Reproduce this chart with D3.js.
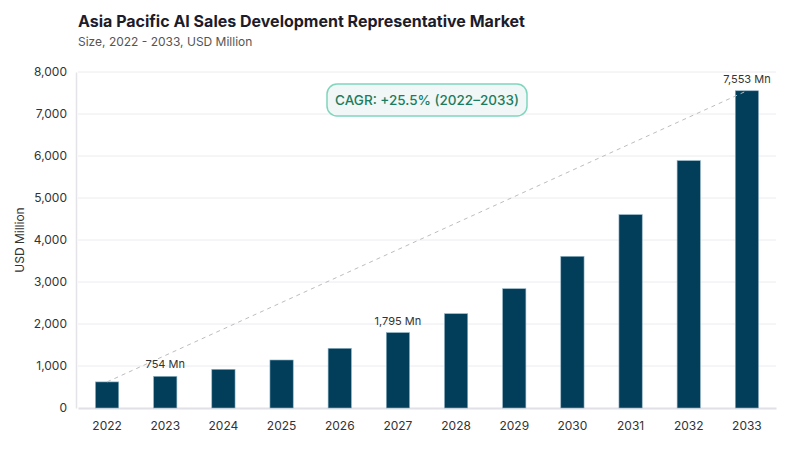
<!DOCTYPE html>
<html>
<head>
<meta charset="utf-8">
<script src="https://cdn.jsdelivr.net/npm/d3@7"></script>
<style>
  body { margin: 0; background: #fff; }
  svg { display: block; font-family: Inter, "Noto Sans", sans-serif; }
</style>
</head>
<body>
<div id="chart"></div>
<script>
const years = ["2022", "2023", "2024", "2025", "2026", "2027", "2028", "2029", "2030", "2031", "2032", "2033"];
const values = [621, 754, 921, 1143, 1421, 1795, 2245, 2840, 3611, 4603, 5889, 7553];
const labelledYears = ["2023", "2027", "2033"];
const yTicks = [0, 1000, 2000, 3000, 4000, 5000, 6000, 7000, 8000];
const cagrText = "CAGR: +25.5% (2022\u20132033)";

const width = 800;
const height = 450;
const margin = { top: 72, right: 24, bottom: 42, left: 78 };

const svg = d3.select("#chart")
  .append("svg")
  .attr("width", width)
  .attr("height", height);

const x = d3.scaleBand()
  .domain(years)
  .range([margin.left, width - margin.right])
  .paddingInner(0.6)
  .paddingOuter(0.3);

const y = d3.scaleLinear()
  .domain([0, 8000])
  .range([height - margin.bottom, margin.top]);

// title
svg.append("text")
  .attr("x", 78).attr("y", 27)
  .attr("font-size", 16).attr("font-weight", 700)
  .attr("fill", "#1c1c2b")
  .text("Asia Pacific AI Sales Development Representative Market");

svg.append("text")
  .attr("x", 78).attr("y", 46)
  .attr("font-size", 12)
  .attr("fill", "#555")
  .text("Size, 2022 - 2033, USD Million");

// grid
svg.append("g")
  .selectAll("line")
  .data(yTicks.filter(d => d > 0))
  .enter()
  .append("line")
  .attr("x1", margin.left).attr("x2", width - margin.right)
  .attr("y1", d => y(d)).attr("y2", d => y(d))
  .attr("stroke", "#ececef")
  .attr("stroke-width", 1);

// y axis
const yAxis = svg.append("g")
  .attr("transform", `translate(${margin.left - 2},0)`)
  .call(d3.axisLeft(y).tickValues(yTicks).tickFormat(d3.format(",")).tickSize(0).tickPadding(9));
yAxis.select(".domain").attr("stroke", "#e3e3e8").attr("stroke-width", 1.5);
yAxis.selectAll("text").attr("font-size", 12).attr("fill", "#333").attr("font-family", "Inter, 'Noto Sans', sans-serif");

svg.append("text")
  .attr("transform", `translate(24,${(margin.top + height - margin.bottom) / 2}) rotate(-90)`)
  .attr("text-anchor", "middle")
  .attr("font-size", 12)
  .attr("fill", "#333")
  .text("USD Million");

// x axis
const xAxis = svg.append("g")
  .attr("transform", `translate(0,${y(0)})`)
  .call(d3.axisBottom(x).tickSize(0).tickPadding(13));
xAxis.select(".domain").attr("stroke", "#e0e0e6").attr("stroke-width", 2);
xAxis.selectAll("text").attr("font-size", 12).attr("fill", "#333").attr("font-family", "Inter, 'Noto Sans', sans-serif");

// bars
svg.append("g")
  .selectAll("rect")
  .data(years)
  .enter()
  .append("rect")
  .attr("x", d => x(d))
  .attr("y", (d, i) => y(values[i]))
  .attr("width", x.bandwidth())
  .attr("height", (d, i) => y(0) - y(values[i]))
  .attr("fill", "#023e5a")
  .attr("stroke", "#8fb2c4")
  .attr("stroke-width", 0.6);

// trend line
const first = 0, last = years.length - 1;
svg.append("line")
  .attr("x1", x(years[first]) + x.bandwidth() / 2)
  .attr("y1", y(values[first]))
  .attr("x2", x(years[last]) + x.bandwidth() / 2)
  .attr("y2", y(values[last]))
  .attr("stroke", "#bdbdbd")
  .attr("stroke-width", 1)
  .attr("stroke-dasharray", "4,4");

// value labels
svg.append("g")
  .selectAll("text")
  .data(labelledYears)
  .enter()
  .append("text")
  .attr("x", d => x(d) + x.bandwidth() / 2)
  .attr("y", d => y(values[years.indexOf(d)]) - 8)
  .attr("text-anchor", "middle")
  .attr("font-size", 11)
  .attr("fill", "#333")
  .text(d => d3.format(",")(values[years.indexOf(d)]) + " Mn");

// CAGR badge
const badge = svg.append("g").attr("transform", "translate(427,100)");
badge.append("rect")
  .attr("x", -100).attr("y", -16)
  .attr("width", 200).attr("height", 32)
  .attr("rx", 10)
  .attr("fill", "#f1f6f6")
  .attr("stroke", "#7fd6bd")
  .attr("stroke-width", 1.5);
badge.append("text")
  .attr("text-anchor", "middle")
  .attr("dy", "0.35em")
  .attr("font-size", 13.5)
  .attr("font-weight", 500)
  .attr("fill", "#1b7d5e")
  .text(cagrText);
</script>
</body>
</html>
